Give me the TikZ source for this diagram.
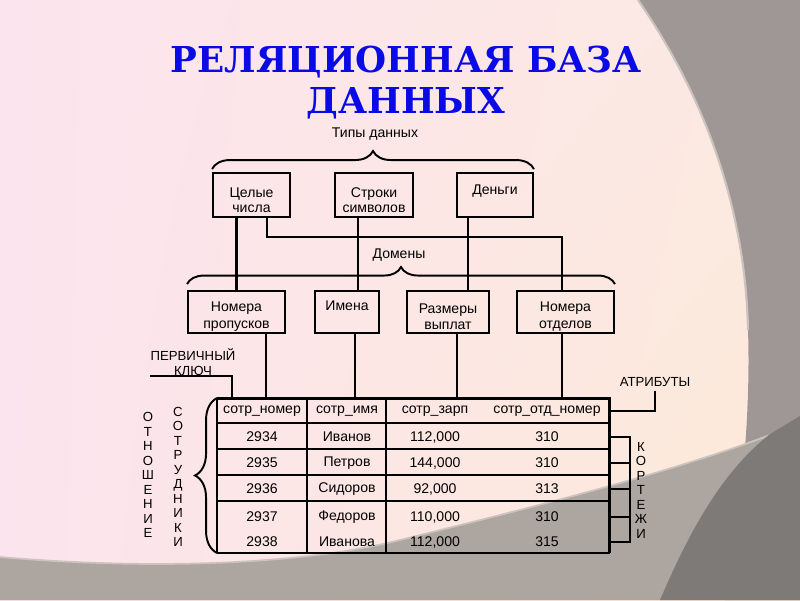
\documentclass[tikz,border=0pt]{standalone}
\usepackage{fontspec}
\setmainfont{Liberation Sans}
\newfontfamily\headfont{DejaVu Serif}
\usetikzlibrary{calc,shadings,decorations.pathreplacing}

\definecolor{bgpink}{RGB}{252,228,238}
\definecolor{bgpeach}{RGB}{252,233,226}
\definecolor{bgcream}{RGB}{252,234,214}
\definecolor{slategrey}{RGB}{158,151,150}
\definecolor{bandgrey}{RGB}{172,165,160}
\definecolor{darkgrey}{RGB}{126,122,120}
\definecolor{edgegrey}{RGB}{205,195,190}
\definecolor{titleblue}{RGB}{10,10,230}

\newcommand{\boxstrut}{\rule{0pt}{11pt}}

\tikzset{
  tbox/.style={draw, line width=1.1pt, minimum height=0.88cm, inner sep=0pt,
    align=center, font=\fontsize{8}{8.5}\selectfont},
  dbox/.style={tbox, minimum height=0.84cm, font=\fontsize{8}{9.5}\selectfont},
  link/.style={line width=1.6pt},
  brc/.style={decorate, decoration={brace, amplitude=#1}, line width=1.1pt},
  cell/.style={font=\fontsize{8}{9}\selectfont, inner sep=0pt},
  caps/.style={font=\fontsize{7.5}{9}\selectfont, inner sep=0pt},
  vlet/.style={align=center, inner sep=0pt, font=\fontsize{7.5}{8.25}\selectfont},
  rowline/.style={line width=0.6pt},
}

\begin{document}
\begin{tikzpicture}[x=0.02cm, y=-0.02cm]
\useasboundingbox (0,0) rectangle (800,600);
% background of the slide
\shade[upper left=bgpink, lower left=bgpink, upper right=bgpeach, lower right=bgcream]
  (0,0) rectangle (800,600);
\fill[slategrey] (638,0) .. controls (700,90) and (745,200) .. (748,330)
  .. controls (751,420) and (740,520) .. (725,600) -- (800,600) -- (800,0) -- cycle;
\draw[edgegrey, line width=1.2pt] (638,0) .. controls (700,90) and (745,200) .. (748,330);
\fill[bandgrey] (0,557) .. controls (150,570) and (300,565) .. (400,540)
  .. controls (550,503) and (700,465) .. (800,423) -- (800,600) -- (0,600) -- cycle;
\draw[edgegrey, line width=1pt] (0,557) .. controls (150,570) and (300,565) .. (400,540)
  .. controls (550,503) and (700,465) .. (800,423);
\fill[darkgrey] (660,600) .. controls (690,530) and (722,472) .. (770,434)
  -- (800,416) -- (800,600) -- cycle;

% title
\node[anchor=north, align=center, inner sep=0pt, text=titleblue,
  font=\headfont\bfseries\fontsize{20.3}{23.3}\selectfont] (ttl) at (406,46)
  {РЕЛЯЦИОННАЯ БАЗА\\ДАННЫХ};

% data types
\node[cell] (types) at (375,134) {Типы данных};
\node[tbox, minimum width=1.54cm] (t1) at (251.5,195) {\boxstrut Целые\\числа};
\node[tbox, minimum width=1.56cm] (t2) at (374,195) {\boxstrut Строки\\символов};
\node[tbox, minimum width=1.52cm] (t3) at (495,195) {\boxstrut Деньги\\\strut};
\draw[brc=0.36cm] ([yshift=0.06cm]t1.north west) -- ([yshift=0.06cm]t3.north east);

% domains
\node[cell] (doms) at (399,255) {Домены};
\node[dbox, minimum width=1.94cm] (d1) at (236.5,312) {\boxstrut Номера\\пропусков};
\node[dbox, minimum width=1.28cm] (d2) at (347,312) {\boxstrut Имена\\\strut};
\node[dbox, minimum width=1.64cm] (d3) at (448,312) {\boxstrut Размеры\\выплат};
\node[dbox, minimum width=1.94cm] (d4) at (565.5,312) {\boxstrut Номера\\отделов};
\draw[brc=0.34cm] ([yshift=0.12cm]d1.north west) -- ([yshift=0.12cm]d4.north east);

\draw[link] (t1.south -| d1.north) -- (d1.north);
\draw[link] ($(t2.south)+(-16,0)$) coordinate (p) -- (p |- d2.north);
\draw[link] ($(t3.south)+(-27,0)$) coordinate (p) -- (p |- d3.north);
\draw[link] ($(t1.south)+(15.5,0)$) |- ($(d4.north)+(-3.5,-53)$) -- ($(d4.north)+(-3.5,0)$);

% table
\node[minimum width=7.86cm, minimum height=3.1cm, inner sep=0pt, outer sep=0pt]
  (tab) at (413.5,475.5) {};
\draw[line width=1.7pt] (tab.north west) -- (tab.north east) -- (tab.south east);
\draw[line width=1.1pt] (tab.south east) -- (tab.south west);
\draw[line width=0.9pt] (tab.south west) -- (tab.north west);
\foreach \y in {423,449,475}
  \draw[rowline] (217,\y) -- (610,\y);
\draw[line width=1.1pt] (217,501) -- (610,501);
\foreach \x in {307,386}
  \draw[rowline] (\x,398) -- (\x,553);

\node[cell] (h1) at (262,411) {сотр\_номер};
\node[cell] (h2) at (347,411) {сотр\_имя};
\node[cell] (h3) at (435,411) {сотр\_зарп};
\node[cell] (h4) at (547,411) {сотр\_отд\_номер};
\foreach \n/\nm/\zp/\od/\y [count=\i] in {2934/Иванов/112{,}000/310/437,
    2935/Петров/144{,}000/310/463, 2936/Сидоров/92{,}000/313/489,
    2937/Федоров/110{,}000/310/517, 2938/Иванова/112{,}000/315/542} {
  \node[cell] (n\i) at (262,\y) {\n};
  \node[cell] (m\i) at (347,\y) {\nm};
  \node[cell] (z\i) at (435,\y) {\zp};
  \node[cell] (o\i) at (547,\y) {\od};
}

\foreach \b/\dx in {d1/29.5, d2/8, d3/9, d4/-3.5}
  \draw[link] ($(\b.south)+(\dx,0)$) coordinate (p) -- (p |- tab.north);

% primary key
\node[caps] (pv) at (193,355) {ПЕРВИЧНЫЙ};
\node[caps] (kl) at (193,371) {КЛЮЧ};
\draw[line width=1.1pt] (kl.south -| pv.west) -| ($(tab.north west)+(15,0)$);

% attributes
\node[caps] (atr) at (655,382) {АТРИБУТЫ};
\draw[link] ($(atr.south)+(0,4)$) |- (h4 -| tab.east);

% tuples
\draw[link] (n1 -| tab.east) -- ++(20,0) coordinate (kt) -- (kt |- n5) -- (n5 -| tab.east);
\foreach \i in {2,3,4}
  \draw[link] (n\i -| tab.east) -- (n\i -| kt);
\node[vlet] (kort) at (641,490) {К\\О\\Р\\Т\\Е\\Ж\\И};

% relation
\draw[brc=0.44cm] (tab.south west) -- (tab.north west);
\node[vlet] (otn) at (148,475) {О\\Т\\Н\\О\\Ш\\Е\\Н\\И\\Е};
\node[vlet] (sotr) at (178,477) {С\\О\\Т\\Р\\У\\Д\\Н\\И\\К\\И};
\end{tikzpicture}
\end{document}
